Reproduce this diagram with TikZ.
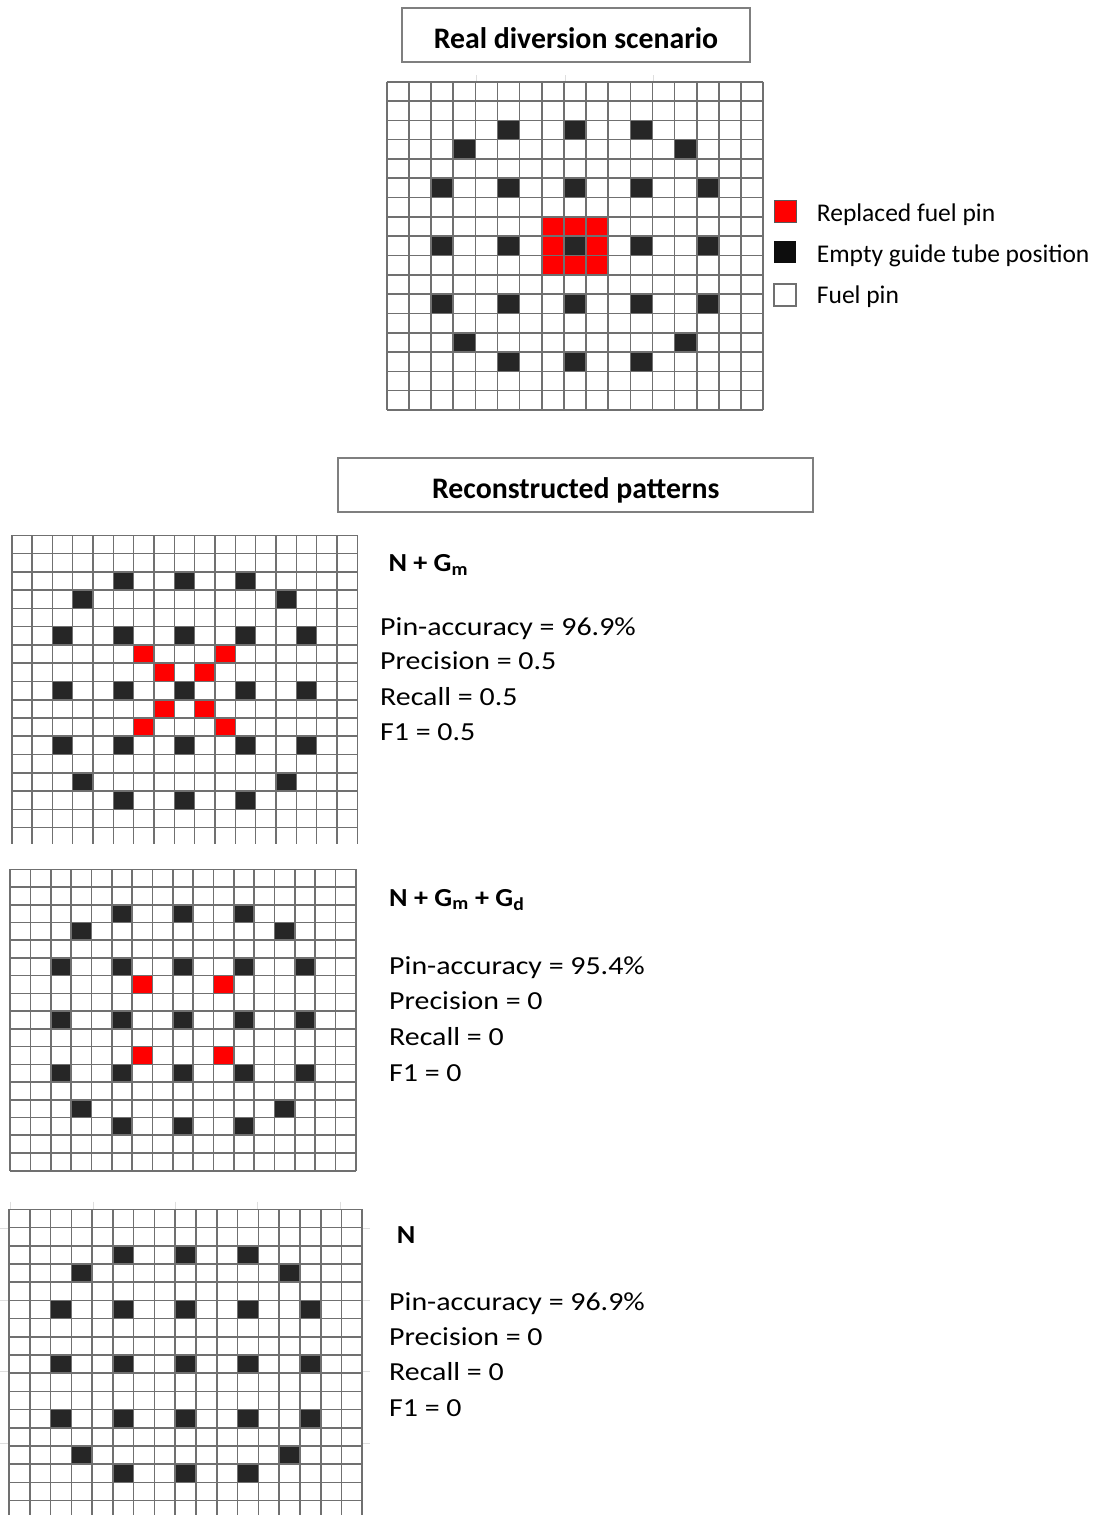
\documentclass[tikz,border=0pt]{standalone}
\usepackage{fontspec}
\setmainfont{Carlito}
\newfontfamily\metfont[FakeStretch=1.15]{Carlito}
\newfontfamily\labfont[FakeStretch=1.08]{Carlito}
\definecolor{gridgray}{RGB}{112,112,112}
\definecolor{guidecol}{RGB}{38,38,38}
\definecolor{pinred}{RGB}{255,0,0}
\definecolor{boxgray}{RGB}{127,127,127}
\definecolor{tickgray}{RGB}{222,222,222}
\tikzset{
  gridline/.style={draw=gridgray,line width=1.6pt},
  titlebox/.style={draw=boxgray,line width=1.8pt,fill=white,inner sep=0pt},
  titletext/.style={font=\fontsize{29.8}{34}\selectfont\bfseries,inner sep=0pt,anchor=base},
  legtext/.style={font=\fontsize{25.5}{30}\selectfont,inner sep=0pt,anchor=base west},
  legsq/.style={minimum width=22pt,minimum height=22pt,inner sep=0pt},
  mettext/.style={font=\metfont\fontsize{26}{30}\selectfont,inner sep=0pt,anchor=base west},
  labtext/.style={font=\labfont\fontsize{26}{30}\selectfont\bfseries,inner sep=0pt,anchor=base west},
  faint/.style={draw=tickgray,line width=1pt}
}
\newcommand{\guides}{%
  \foreach \r/\c in {2/5,2/8,2/11,3/3,3/13,5/2,5/5,5/8,5/11,5/14,8/2,8/5,8/8,8/11,8/14,11/2,11/5,11/8,11/11,11/14,13/3,13/13,14/5,14/8,14/11}
    \fill[guidecol] (\c,\r) rectangle ++(1,1);}
\newcommand{\gridlines}[2]{%
  \foreach \i in {0,...,17} \draw[gridline] (\i,0) -- (\i,#1);
  \foreach \j in {0,...,#2} \draw[gridline] (0,\j) -- (17,\j);}
\begin{document}
\begin{tikzpicture}[x=1pt,y=-1pt]
\useasboundingbox[fill=white] (0,0) rectangle (1102,1515);

% faint ticks
\foreach \xx in {476.7,565,653} \draw[faint] (\xx,75) -- (\xx,81);
\foreach \xx in {10.5,93,175,257.3,340} \draw[faint] (\xx,1201.5) -- (\xx,1209);
\foreach \yy in {1228.3,1300,1371.7,1443.3} {\draw[faint] (362,\yy) -- (370,\yy); \draw[faint] (0,\yy) -- (8,\yy);}

% ---------- Real diversion scenario ----------
\node[titlebox,minimum width=347.7pt,minimum height=53.4pt] (t1box) at (576.2,35) {};
\node[titletext] (t1) at (576,48.3) {Real diversion scenario};

\begin{scope}[shift={(386.7,81.7)},x=22.15pt,y=-19.31pt]
  \foreach \r in {7,8,9} \foreach \c in {7,8,9} \fill[pinred] (\c,\r) rectangle ++(1,1);
  \guides
  \gridlines{17}{17}
\end{scope}

% legend
\node[legsq,fill=pinred,draw=black!65,line width=0.8pt] (lr) at (785,211.2) {};
\node[legsq,fill=black!95] (lb) at (785,252.3) {};
\node[legsq,fill=white,draw=gridgray,line width=1.6pt] (lw) at (785,295) {};
\node[legtext] (lrt) at (816.7,221.7) {Replaced fuel pin};
\node[legtext] (lbt) at (816.7,262.7) {Empty guide tube position};
\node[legtext] (lwt) at (816.7,303.3) {Fuel pin};

% ---------- Reconstructed patterns ----------
\node[titlebox,minimum width=475pt,minimum height=53.4pt] (t2box) at (575.8,485) {};
\node[titletext] (t2) at (575.8,498.3) {Reconstructed patterns};

% grid N + Gm
\begin{scope}[shift={(11.7,535.3)},x=20.33pt,y=-18.27pt]
  \foreach \r/\c in {6/6,6/10,7/7,7/9,9/7,9/9,10/6,10/10} \fill[pinred] (\c,\r) rectangle ++(1,1);
  \guides
  \gridlines{16.9}{16}
\end{scope}
\node[labtext] (l1) at (388.3,571.7) {N + G\textsubscript{m}};
\node[mettext] (m1a) at (380,635) {Pin-accuracy = 96.9\%};
\node[mettext] (m1b) at (380,669.8) {Precision = 0.5};
\node[mettext] (m1c) at (380,705.7) {Recall = 0.5};
\node[mettext] (m1d) at (380,740.5) {F1 = 0.5};

% grid N + Gm + Gd
\begin{scope}[shift={(10,869.3)},x=20.35pt,y=-17.73pt]
  \foreach \r/\c in {6/6,6/10,10/6,10/10} \fill[pinred] (\c,\r) rectangle ++(1,1);
  \guides
  \gridlines{17}{17}
\end{scope}
\node[labtext] (l2) at (389,906) {N + G\textsubscript{m} + G\textsubscript{d}};
\node[mettext] (m2a) at (389,974.3) {Pin-accuracy = 95.4\%};
\node[mettext] (m2b) at (389,1009.6) {Precision = 0};
\node[mettext] (m2c) at (389,1045.7) {Recall = 0};
\node[mettext] (m2d) at (389,1081) {F1 = 0};

% grid N
\begin{scope}[shift={(9,1209.3)},x=20.78pt,y=-18.2pt]
  \guides
  \gridlines{17}{16}
\end{scope}
\node[labtext] (l3) at (396.7,1243.3) {N};
\node[mettext] (m3a) at (389,1310) {Pin-accuracy = 96.9\%};
\node[mettext] (m3b) at (389,1345.3) {Precision = 0};
\node[mettext] (m3c) at (389,1380.7) {Recall = 0};
\node[mettext] (m3d) at (389,1416) {F1 = 0};
\end{tikzpicture}
\end{document}
